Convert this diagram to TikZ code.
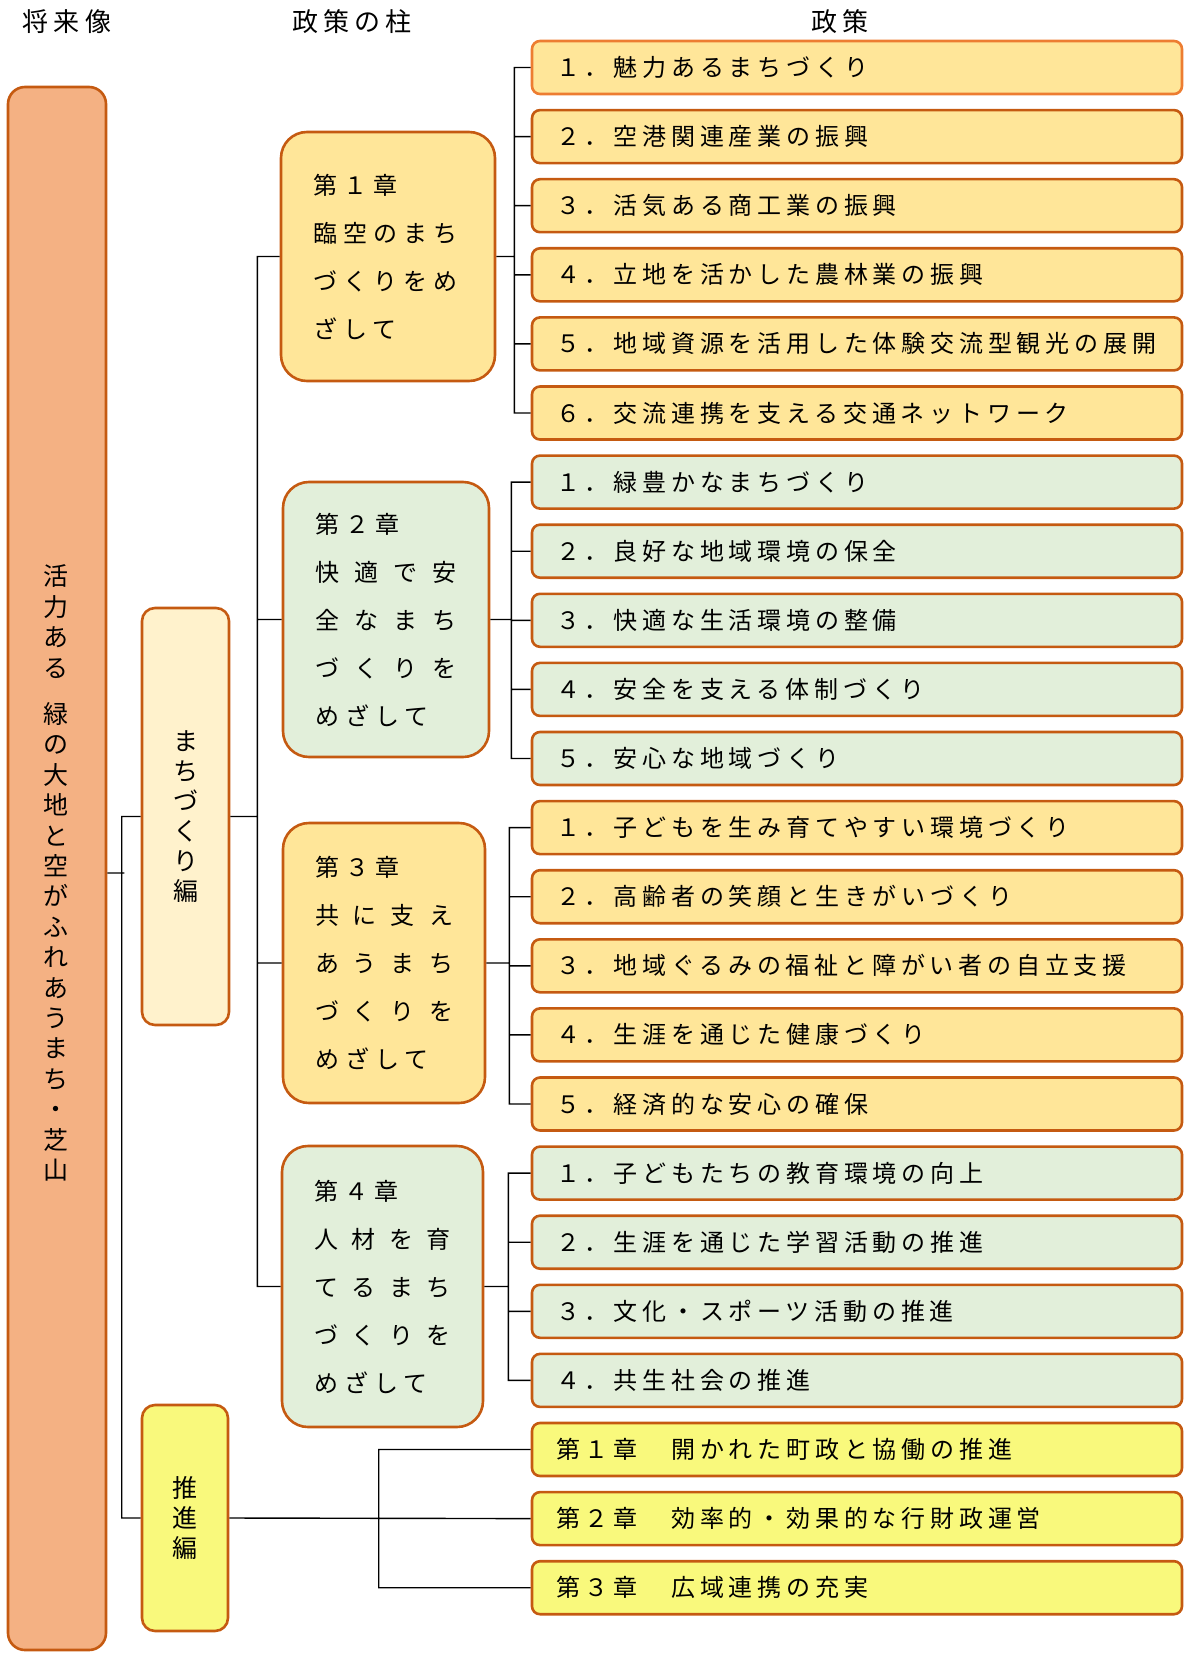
\documentclass[tikz,border=0pt]{standalone}
\usepackage{fontspec}
\usepackage{xcolor}
\newfontfamily\jp{Noto Sans CJK JP}
\newfontfamily\jpls[LetterSpace=20]{Noto Sans CJK JP}
\newfontfamily\jpch[LetterSpace=25]{Noto Sans CJK JP}
\definecolor{brd}{HTML}{C55A11}
\definecolor{brdlt}{HTML}{ED7D31}
\definecolor{salmon}{HTML}{F4B183}
\definecolor{gold}{HTML}{FFE699}
\definecolor{mint}{HTML}{E2EFDA}
\definecolor{cream}{HTML}{FFF2CC}
\definecolor{lemon}{HTML}{F9F97C}
\newcommand{\spread}[4]{\leavevmode\hbox to \hsize{#1\hfill #2\hfill #3\hfill #4}}
\tikzset{
    box/.style={draw=brd, line width=1.3pt},
    pol/.style={box, rounded corners=4pt, minimum height=26.5pt, text width=301pt,
        inner xsep=12pt, align=left, font=\jpls\fontsize{12pt}{14pt}\selectfont},
    chap/.style={box, rounded corners=13pt, inner xsep=16pt, align=left,
        font=\jpch\fontsize{12pt}{24pt}\selectfont},
    part/.style={box, rounded corners=6.5pt, align=center,
        font=\jp\fontsize{12.5pt}{15pt}\selectfont},
    head/.style={font=\jpls\fontsize{13pt}{15pt}\selectfont},
    link/.style={line width=0.7pt}
}

\begin{document}
\begin{tikzpicture}[x=0.5pt, y=-0.5pt]
    \useasboundingbox (0,0) rectangle (1187,1653);
    % headers
    \node[head] (hvision) at (67,22) {将来像};
    \node[head] (hpillar) at (352,22) {政策の柱};
    \node[head] (hpolicy) at (840,22) {政策};
    % vision
    \node[part, fill=salmon, rounded corners=8.5pt, minimum width=49pt, minimum height=781.5pt] (vision) at (57,868.5) {};
    \node[font=\jp\fontsize{12.5pt}{15.2pt}\selectfont, align=center] (visiontxt) at (56,873)
        {活\\力\\あ\\る\\[8pt]緑\\の\\大\\地\\と\\空\\が\\ふ\\れ\\あ\\う\\ま\\ち\\・\\芝\\山};
    % parts
    \node[part, fill=cream, minimum width=43.5pt, minimum height=208.5pt] (machi) at (185.5,816.5) {ま\\ち\\づ\\く\\り\\編};
    \node[part, fill=lemon, minimum width=43pt, minimum height=113pt] (sui) at (185,1518) {推\\進\\編};
    % chapters
    \node[chap, fill=gold, text width=75pt, minimum height=124.5pt] (ch1) at (388,256.5)
        {第１章\\臨空のまち\\づくりをめ\\ざして};
    \node[chap, fill=mint, text width=71pt, minimum height=137.5pt] (ch2) at (386,619.5)
        {第２章\\\spread{快}{適}{で}{安}\\\spread{全}{な}{ま}{ち}\\\spread{づ}{く}{り}{を}\\めざして};
    \node[chap, fill=gold, text width=69pt, minimum height=140pt] (ch3) at (384,963)
        {第３章\\\spread{共}{に}{支}{え}\\\spread{あ}{う}{ま}{ち}\\\spread{づ}{く}{り}{を}\\めざして};
    \node[chap, fill=mint, text width=68.5pt, minimum height=140.5pt] (ch4) at (382.5,1286.5)
        {第４章\\\spread{人}{材}{を}{育}\\\spread{て}{る}{ま}{ち}\\\spread{づ}{く}{り}{を}\\めざして};
    % policies
    \node[pol, fill=gold, draw=brdlt] (p11) at (857,67.5) {１．魅力あるまちづくり};
    \node[pol, fill=gold] (p12) at (857,136.6) {２．空港関連産業の振興};
    \node[pol, fill=gold] (p13) at (857,205.7) {３．活気ある商工業の振興};
    \node[pol, fill=gold] (p14) at (857,274.8) {４．立地を活かした農林業の振興};
    \node[pol, fill=gold] (p15) at (857,343.9) {５．地域資源を活用した体験交流型観光の展開};
    \node[pol, fill=gold] (p16) at (857,413.0) {６．交流連携を支える交通ネットワーク};
    \node[pol, fill=mint] (p21) at (857,482.1) {１．緑豊かなまちづくり};
    \node[pol, fill=mint] (p22) at (857,551.2) {２．良好な地域環境の保全};
    \node[pol, fill=mint] (p23) at (857,620.3) {３．快適な生活環境の整備};
    \node[pol, fill=mint] (p24) at (857,689.4) {４．安全を支える体制づくり};
    \node[pol, fill=mint] (p25) at (857,758.5) {５．安心な地域づくり};
    \node[pol, fill=gold] (p31) at (857,827.6) {１．子どもを生み育てやすい環境づくり};
    \node[pol, fill=gold] (p32) at (857,896.7) {２．高齢者の笑顔と生きがいづくり};
    \node[pol, fill=gold] (p33) at (857,965.8) {３．地域ぐるみの福祉と障がい者の自立支援};
    \node[pol, fill=gold] (p34) at (857,1034.9) {４．生涯を通じた健康づくり};
    \node[pol, fill=gold] (p35) at (857,1104.0) {５．経済的な安心の確保};
    \node[pol, fill=mint] (p41) at (857,1173.1) {１．子どもたちの教育環境の向上};
    \node[pol, fill=mint] (p42) at (857,1242.2) {２．生涯を通じた学習活動の推進};
    \node[pol, fill=mint] (p43) at (857,1311.3) {３．文化・スポーツ活動の推進};
    \node[pol, fill=mint] (p44) at (857,1380.4) {４．共生社会の推進};
    \node[pol, fill=lemon] (s1) at (857,1449.5) {第１章　開かれた町政と協働の推進};
    \node[pol, fill=lemon] (s2) at (857,1518.6) {第２章　効率的・効果的な行財政運営};
    \node[pol, fill=lemon] (s3) at (857,1587.7) {第３章　広域連携の充実};
    % connectors
    \draw[link]
    ([yshift=-2.25pt]vision.east) -- +(17,0)
    (machi.west) -- ++(-19,0) |- (sui.west)
    (machi.east) -- ++(27,0) |- (ch1.west)
    (machi.east) ++(27,0) |- (ch2.west)
    (machi.east) ++(27,0) |- (ch3.west)
    (machi.east) ++(27,0) |- (ch4.west)
    (ch1.east) -- ++(18,0) |- (p11.west)
    (ch1.east) ++(18,0) |- (p12.west)
    (ch1.east) ++(18,0) |- (p13.west)
    (ch1.east) ++(18,0) |- (p14.west)
    (ch1.east) ++(18,0) |- (p15.west)
    (ch1.east) ++(18,0) |- (p16.west)
    (ch2.east) -- ++(21,0) |- (p21.west)
    (ch2.east) ++(21,0) |- (p22.west)
    (ch2.east) ++(21,0) |- (p23.west)
    (ch2.east) ++(21,0) |- (p24.west)
    (ch2.east) ++(21,0) |- (p25.west)
    (ch3.east) -- ++(23,0) |- (p31.west)
    (ch3.east) ++(23,0) |- (p32.west)
    (ch3.east) ++(23,0) |- (p33.west)
    (ch3.east) ++(23,0) |- (p34.west)
    (ch3.east) ++(23,0) |- (p35.west)
    (ch4.east) -- ++(24,0) |- (p41.west)
    (ch4.east) ++(24,0) |- (p42.west)
    (ch4.east) ++(24,0) |- (p43.west)
    (ch4.east) ++(24,0) |- (p44.west)
    (s1.west) -- ++(-152,0) |- (s3.west)
    (sui.east) -- (s2.west);
\end{tikzpicture}
\end{document}
